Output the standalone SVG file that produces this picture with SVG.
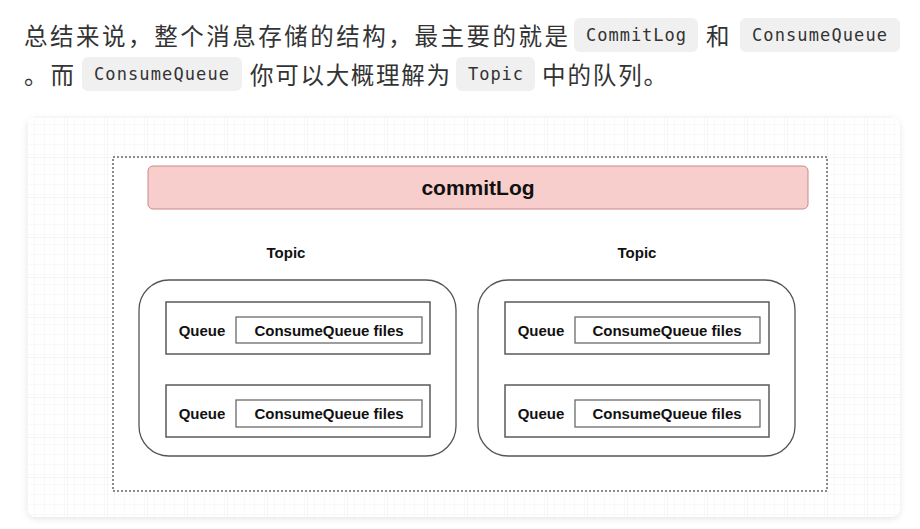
<svg xmlns="http://www.w3.org/2000/svg" width="920" height="529" viewBox="0 0 920 529">
  <defs>
    <style>
      .zh { font-family: "Noto Sans CJK SC", "Noto Sans", sans-serif; font-size: 23.5px; fill: #333333; }
      .code { font-family: "DejaVu Sans Mono", "Liberation Mono", monospace; font-size: 17px; fill: #333333; }
      .chip { fill: #f0f0f0; }
      .lbl { font-family: "Liberation Sans", Arial, sans-serif; font-weight: bold; fill: #111111; text-anchor: middle; }
      .topic { fill: #ffffff; stroke: #555555; stroke-width: 1.3; }
      .queue { fill: #ffffff; stroke: #5a5a5a; stroke-width: 1.5; }
      .files { fill: #ffffff; stroke: #6a6a6a; stroke-width: 1.3; }
    </style>
    <pattern id="gridMinor" width="10" height="10" patternUnits="userSpaceOnUse" x="27" y="117">
      <path d="M10 0 L0 0 0 10" fill="none" stroke="#f4f4f4" stroke-width="1"/>
    </pattern>
    <pattern id="gridMajor" width="40" height="40" patternUnits="userSpaceOnUse" x="27" y="117">
      <rect width="40" height="40" fill="url(#gridMinor)"/>
      <path d="M40 0 L0 0 0 40" fill="none" stroke="#ececec" stroke-width="1"/>
    </pattern>
    <filter id="shadow" x="-5%" y="-5%" width="110%" height="115%">
      <feDropShadow dx="0" dy="2" stdDeviation="3" flood-color="#000000" flood-opacity="0.10"/>
    </filter>
  </defs>

  <rect width="920" height="529" fill="#ffffff"/>

  <!-- paragraph text -->
  <g id="paragraph">
    <text class="zh" x="24" y="45" textLength="544" lengthAdjust="spacing">总结来说，整个消息存储的结构，最主要的就是</text>
    <rect class="chip" x="574" y="18" width="124" height="34" rx="6"/>
    <text class="code" x="586" y="41" textLength="100" lengthAdjust="spacing">CommitLog</text>
    <text class="zh" x="706" y="45">和</text>
    <rect class="chip" x="740" y="18" width="160" height="34" rx="6"/>
    <text class="code" x="752" y="41" textLength="135" lengthAdjust="spacing">ConsumeQueue</text>

    <text class="zh" x="24" y="84" textLength="50" lengthAdjust="spacing">。而</text>
    <rect class="chip" x="82" y="57" width="160" height="34" rx="6"/>
    <text class="code" x="94" y="80" textLength="135" lengthAdjust="spacing">ConsumeQueue</text>
    <text class="zh" x="250" y="84" textLength="200" lengthAdjust="spacing">你可以大概理解为</text>
    <rect class="chip" x="456" y="57" width="79" height="34" rx="6"/>
    <text class="code" x="468" y="80" textLength="55" lengthAdjust="spacing">Topic</text>
    <text class="zh" x="542" y="84" textLength="125" lengthAdjust="spacing">中的队列。</text>
  </g>

  <!-- card with grid -->
  <g id="card">
    <rect x="27" y="117" width="873" height="400" rx="9" fill="#ffffff" filter="url(#shadow)"/>
    <rect x="27" y="117" width="873" height="400" rx="9" fill="url(#gridMajor)"/>
  </g>

  <g id="container">
    <rect x="113" y="157" width="714" height="334" fill="#ffffff" stroke="#666666" stroke-width="1.5" stroke-dasharray="2 2"/>
  </g>

  <g id="commitLog">
    <rect x="148" y="166" width="660" height="43" rx="5" fill="#f8cecc" stroke="#c98a88" stroke-width="1"/>
    <text class="lbl" x="478" y="195" font-size="21">commitLog</text>
  </g>

  <g id="topic-left">
    <text class="lbl" x="286" y="258" font-size="15">Topic</text>
    <rect class="topic" x="139" y="280" width="317" height="176" rx="30"/>
  </g>
  <g id="topic-right">
    <text class="lbl" x="637" y="258" font-size="15">Topic</text>
    <rect class="topic" x="478" y="280" width="317" height="176" rx="30"/>
  </g>

  <g id="queue-l1">
    <rect class="queue" x="166" y="302" width="264" height="52"/>
    <text class="lbl" x="202" y="336" font-size="15">Queue</text>
    <rect class="files" x="236" y="317" width="186" height="26"/>
    <text class="lbl" x="329" y="336" font-size="15">ConsumeQueue files</text>
  </g>
  <g id="queue-l2">
    <rect class="queue" x="166" y="385" width="264" height="52"/>
    <text class="lbl" x="202" y="419" font-size="15">Queue</text>
    <rect class="files" x="236" y="400" width="186" height="27"/>
    <text class="lbl" x="329" y="419" font-size="15">ConsumeQueue files</text>
  </g>
  <g id="queue-r1">
    <rect class="queue" x="505" y="302" width="264" height="52"/>
    <text class="lbl" x="541" y="336" font-size="15">Queue</text>
    <rect class="files" x="575" y="317" width="185" height="26"/>
    <text class="lbl" x="667" y="336" font-size="15">ConsumeQueue files</text>
  </g>
  <g id="queue-r2">
    <rect class="queue" x="505" y="385" width="264" height="52"/>
    <text class="lbl" x="541" y="419" font-size="15">Queue</text>
    <rect class="files" x="575" y="400" width="185" height="27"/>
    <text class="lbl" x="667" y="419" font-size="15">ConsumeQueue files</text>
  </g>

  <g id="connectors"></g>
</svg>
